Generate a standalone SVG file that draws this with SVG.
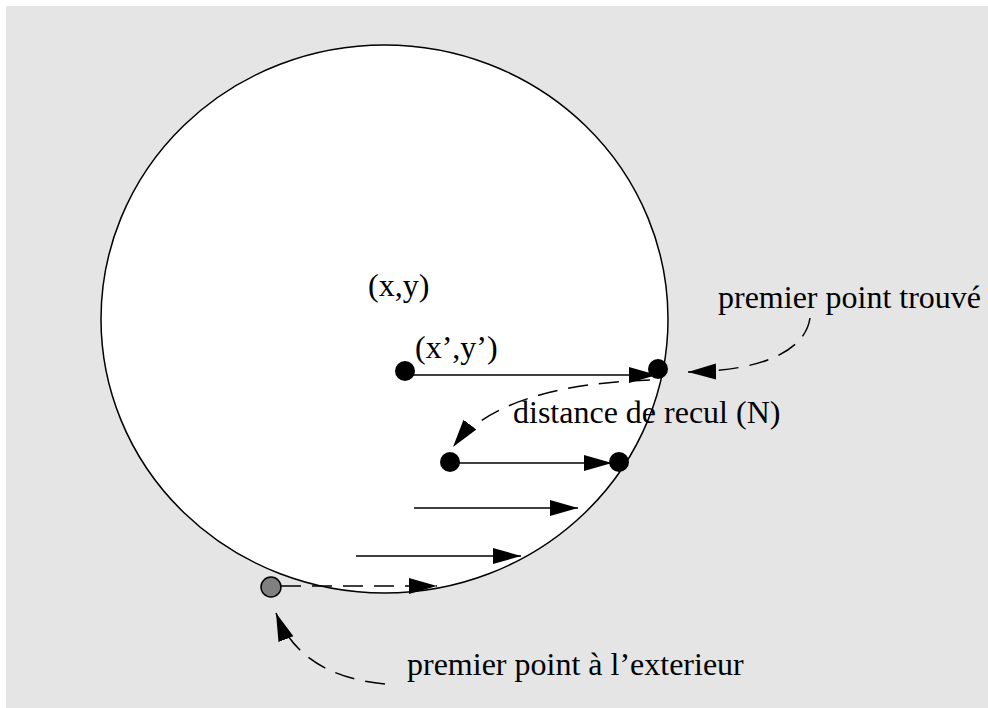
<svg xmlns="http://www.w3.org/2000/svg" width="988" height="708" viewBox="0 0 988 708">
<defs>
<style>
.lbl{font-family:"Liberation Serif","Times New Roman",serif;font-size:32px;fill:#000}
.ln{stroke:#000;stroke-width:1.5;fill:none}
.dash{stroke-dasharray:20 11}
.dot{fill:#000}
</style>
<marker id="ah" markerUnits="userSpaceOnUse" markerWidth="30" markerHeight="18" refX="28" refY="8" orient="auto" viewBox="0 0 30 18">
<path d="M0,0 L28,8 L0,16 z" fill="#000"/>
</marker>
</defs>
<rect x="6" y="6" width="982" height="702" fill="#e5e5e5"/>
<g id="circle"><ellipse cx="384.5" cy="319" rx="283.5" ry="274" fill="#fff" stroke="#000" stroke-width="1.5"/></g>
<g id="connectors">
<line class="ln" x1="405" y1="375" x2="657" y2="375" marker-end="url(#ah)"/>
<line class="ln" x1="450" y1="463" x2="612" y2="463" marker-end="url(#ah)"/>
<line class="ln" x1="414" y1="508" x2="578" y2="508" marker-end="url(#ah)"/>
<line class="ln" x1="356" y1="556" x2="521" y2="556" marker-end="url(#ah)"/>
<line class="ln dash" x1="281" y1="586" x2="437" y2="586" marker-end="url(#ah)"/>
<path class="ln dash" d="M650 380 Q500 385 453 447" marker-end="url(#ah)"/>
<path class="ln dash" d="M810 318 C805 352 760 371 688 372" marker-end="url(#ah)"/>
<path class="ln dash" d="M385 684 Q300 676 276 613" marker-end="url(#ah)"/>
</g>
<g id="n-start"><circle class="dot" cx="405" cy="371" r="10"/></g>
<g id="n-first"><circle class="dot" cx="658" cy="369" r="10"/></g>
<g id="n-back"><circle class="dot" cx="450" cy="462" r="10"/></g>
<g id="n-back-end"><circle class="dot" cx="619" cy="462" r="10"/></g>
<g id="n-outside"><circle cx="271" cy="587" r="10" fill="#808080" stroke="#000" stroke-width="1.5"/></g>
<g id="labels">
<text class="lbl" x="368" y="296">(x,y)</text>
<text class="lbl" x="415" y="358">(x’,y’)</text>
<text class="lbl" x="513" y="423">distance de recul (N)</text>
<text class="lbl" x="718" y="308">premier point trouvé</text>
<text class="lbl" x="407" y="675">premier point à l’exterieur</text>
</g>
</svg>
